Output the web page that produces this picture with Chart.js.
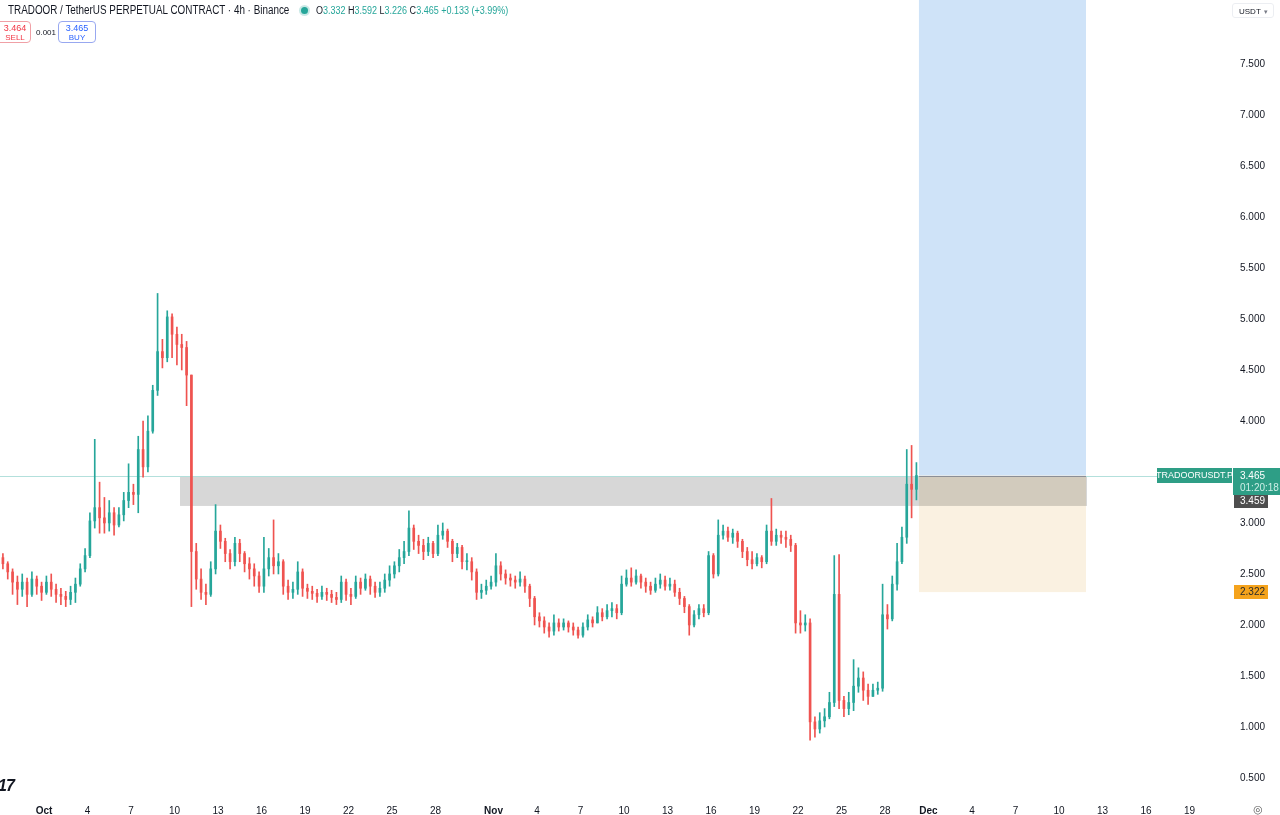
<!DOCTYPE html>
<html>
<head>
<meta charset="utf-8">
<title>TRADOOR / TetherUS PERPETUAL CONTRACT</title>
<script src="https://cdn.jsdelivr.net/npm/chart.js@4.4.1/dist/chart.umd.min.js"></script>
<style>
  body { margin: 0; background: #fff; font-family: "Liberation Sans", Arial, sans-serif; }
  #wrap { position: relative; width: 1280px; height: 815px; overflow: hidden; }
  #chart { position: absolute; left: 0; top: 0; }
  .title { position: absolute; left: 8px; top: 3px; font-size: 12.5px; color: #131722; white-space: nowrap; transform: scaleX(0.79); transform-origin: left top; }
  .dot { position: absolute; left: 301px; top: 7px; width: 7px; height: 7px; border-radius: 50%; background: #26a69a; box-shadow: 0 0 0 2px rgba(38,166,154,0.25); }
  .ohlc { position: absolute; left: 316px; top: 5px; font-size: 10px; color: #26a69a; white-space: nowrap; transform: scaleX(0.9); transform-origin: left top; }
  .ohlc b { font-weight: normal; color: #131722; }
  .trade { position: absolute; top: 21px; height: 22px; border: 1px solid; border-radius: 4px; text-align: center; font-size: 9px; line-height: 10px; padding-top: 1px; box-sizing: border-box; }
  .trade span { display: block; font-size: 8px; }
  .sell { left: -6px; width: 37px; border-color: #f0a0a6; color: #f23645; padding-left: 5px; }
  .buy { left: 58px; width: 38px; border-color: #98a8f0; color: #2962ff; }
  .spread { position: absolute; left: 36px; top: 28px; font-size: 8px; color: #131722; }
  .unit { position: absolute; left: 1232px; top: 3px; width: 42px; height: 15px; border: 1px solid #eceef2; border-radius: 3px; font-size: 8px; color: #131722; line-height: 15px; box-sizing: border-box; padding-left: 6px; }
  .unit i { position: absolute; right: 5px; top: 0; font-style: normal; color: #787b86; font-size: 7px; }
  .logo { position: absolute; left: -2px; top: 777px; font-size: 16px; font-weight: 900; font-style: italic; color: #131722; letter-spacing: -1px; }
  .gear { position: absolute; left: 1253px; top: 803px; font-size: 11px; color: #555; }
</style>
</head>
<body>
<div id="wrap">
  <canvas id="chart" width="1280" height="815"></canvas>
  <div class="title">TRADOOR / TetherUS PERPETUAL CONTRACT · 4h · Binance</div>
  <div class="dot"></div>
  <div class="ohlc"><b>O</b>3.332 <b>H</b>3.592 <b>L</b>3.226 <b>C</b>3.465 +0.133 (+3.99%)</div>
  <div class="trade sell">3.464<span>SELL</span></div>
  <div class="spread">0.001</div>
  <div class="trade buy">3.465<span>BUY</span></div>
  <div class="unit">USDT<i>▾</i></div>
  <div class="logo">17</div>
  <div class="gear">◎</div>
</div>
<script>
const FONT = '"Liberation Sans", Arial, sans-serif';
const UP = "#26a69a";
const DOWN = "#ef5350";

// ── Data: 8h candles from Sep 28, day 0 = Oct 1 ──
const START_DAY = -3;
const STEP = 1 / 3;
const FIRST_OPEN = 2.66;

const CLOSE = [
  2.60, 2.52, 2.42, 2.35, 2.42, 2.30, 2.45, 2.38, 2.32, 2.42, 2.35, 2.30,
  2.28, 2.25, 2.32, 2.40, 2.55, 2.68, 3.02, 3.15, 3.05, 3.00, 3.10, 2.98,
  3.08, 3.22, 3.30, 3.28, 3.72, 3.55, 3.90, 4.30, 4.68, 4.62, 5.02, 4.85,
  4.75, 4.72, 4.45, 2.72, 2.45, 2.32, 2.30, 2.55, 2.92, 2.82, 2.70, 2.62,
  2.80, 2.70, 2.60, 2.55, 2.48, 2.38, 2.55, 2.66, 2.58, 2.62, 2.38, 2.32,
  2.35, 2.52, 2.36, 2.33, 2.31, 2.28, 2.32, 2.30, 2.27, 2.25, 2.42, 2.30,
  2.28, 2.42, 2.36, 2.45, 2.38, 2.32, 2.36, 2.44, 2.50, 2.58, 2.66, 2.72,
  2.95, 2.82, 2.78, 2.72, 2.80, 2.70, 2.88, 2.92, 2.82, 2.70, 2.76, 2.62,
  2.62, 2.52, 2.32, 2.34, 2.38, 2.42, 2.58, 2.50, 2.46, 2.44, 2.42, 2.45,
  2.38, 2.26, 2.08, 2.04, 1.98, 1.94, 2.02, 1.98, 2.02, 1.98, 1.95, 1.90,
  1.98, 2.05, 2.02, 2.12, 2.08, 2.14, 2.16, 2.12, 2.40, 2.46, 2.42, 2.48,
  2.42, 2.38, 2.34, 2.40, 2.44, 2.38, 2.40, 2.32, 2.26, 2.18, 2.00, 2.10,
  2.16, 2.12, 2.68, 2.50, 2.88, 2.92, 2.86, 2.90, 2.82, 2.72, 2.64, 2.60,
  2.66, 2.62, 2.92, 2.82, 2.88, 2.86, 2.84, 2.78, 2.02, 2.00, 2.02, 1.05,
  0.98, 1.06, 1.10, 1.24, 2.30, 1.26, 1.18, 1.24, 1.40, 1.48, 1.36, 1.30,
  1.36, 1.38, 2.10, 2.06, 2.40, 2.62, 2.86, 3.38, 3.33, 3.465,
];
const HIGH = [
  2.70, 2.62, 2.55, 2.48, 2.50, 2.46, 2.52, 2.48, 2.42, 2.48, 2.50, 2.40,
  2.36, 2.33, 2.38, 2.46, 2.60, 2.75, 3.10, 3.82, 3.40, 3.25, 3.22, 3.15,
  3.15, 3.30, 3.58, 3.38, 3.85, 4.00, 4.05, 4.35, 5.25, 4.80, 5.08, 5.05,
  4.92, 4.85, 4.78, 4.45, 2.80, 2.55, 2.40, 2.62, 3.18, 2.98, 2.85, 2.74,
  2.86, 2.84, 2.72, 2.66, 2.60, 2.52, 2.86, 2.75, 3.03, 2.70, 2.64, 2.44,
  2.42, 2.62, 2.55, 2.40, 2.38, 2.35, 2.38, 2.36, 2.34, 2.32, 2.48, 2.45,
  2.36, 2.48, 2.46, 2.50, 2.48, 2.42, 2.42, 2.50, 2.58, 2.62, 2.74, 2.82,
  3.12, 2.98, 2.88, 2.84, 2.86, 2.82, 2.98, 3.00, 2.94, 2.84, 2.80, 2.78,
  2.70, 2.66, 2.55, 2.40, 2.44, 2.48, 2.70, 2.62, 2.54, 2.50, 2.48, 2.52,
  2.48, 2.40, 2.28, 2.12, 2.08, 2.02, 2.10, 2.06, 2.06, 2.04, 2.02, 1.98,
  2.02, 2.10, 2.08, 2.18, 2.16, 2.20, 2.22, 2.20, 2.48, 2.54, 2.56, 2.54,
  2.50, 2.46, 2.42, 2.46, 2.50, 2.48, 2.46, 2.44, 2.36, 2.28, 2.20, 2.14,
  2.20, 2.20, 2.72, 2.70, 3.03, 2.98, 2.96, 2.94, 2.92, 2.84, 2.76, 2.72,
  2.70, 2.68, 2.98, 3.24, 2.94, 2.92, 2.92, 2.88, 2.80, 2.14, 2.10, 2.06,
  1.10, 1.14, 1.18, 1.34, 2.68, 2.69, 1.30, 1.34, 1.66, 1.58, 1.54, 1.42,
  1.42, 1.44, 2.40, 2.20, 2.48, 2.80, 2.96, 3.72, 3.76, 3.592,
];
const LOW = [
  2.55, 2.45, 2.30, 2.20, 2.28, 2.18, 2.28, 2.30, 2.24, 2.30, 2.28, 2.22,
  2.20, 2.18, 2.20, 2.22, 2.38, 2.52, 2.66, 2.95, 2.90, 2.90, 2.92, 2.88,
  2.96, 3.02, 3.15, 3.18, 3.10, 3.45, 3.50, 3.88, 4.25, 4.52, 4.58, 4.62,
  4.55, 4.50, 4.15, 2.18, 2.35, 2.25, 2.20, 2.28, 2.50, 2.75, 2.62, 2.55,
  2.58, 2.62, 2.52, 2.45, 2.38, 2.32, 2.32, 2.48, 2.50, 2.50, 2.30, 2.25,
  2.26, 2.30, 2.28, 2.26, 2.25, 2.22, 2.25, 2.24, 2.22, 2.20, 2.22, 2.24,
  2.20, 2.26, 2.30, 2.34, 2.30, 2.27, 2.28, 2.32, 2.38, 2.46, 2.52, 2.60,
  2.68, 2.74, 2.70, 2.64, 2.68, 2.66, 2.68, 2.84, 2.76, 2.62, 2.66, 2.55,
  2.54, 2.44, 2.25, 2.26, 2.30, 2.35, 2.38, 2.44, 2.40, 2.38, 2.36, 2.38,
  2.32, 2.18, 2.00, 1.98, 1.92, 1.88, 1.90, 1.94, 1.95, 1.93, 1.90, 1.87,
  1.88, 1.95, 1.98, 2.02, 2.04, 2.06, 2.08, 2.06, 2.10, 2.38, 2.38, 2.40,
  2.36, 2.32, 2.30, 2.32, 2.36, 2.34, 2.34, 2.28, 2.20, 2.12, 1.90, 1.98,
  2.06, 2.08, 2.10, 2.46, 2.48, 2.84, 2.82, 2.80, 2.76, 2.66, 2.58, 2.55,
  2.58, 2.56, 2.60, 2.78, 2.78, 2.80, 2.76, 2.72, 1.92, 1.92, 1.94, 0.87,
  0.90, 0.94, 1.00, 1.08, 1.20, 1.18, 1.10, 1.12, 1.16, 1.34, 1.26, 1.22,
  1.30, 1.32, 1.35, 1.96, 2.04, 2.34, 2.60, 2.80, 3.05, 3.226,
];

// drawings on the chart (price levels and day ranges)
const ZONE_DAYS = [9.38, 71.93];
const ZONE_PRICES = [3.167, 3.451];
const POSITION_DAYS = [60.34, 71.86];
const POSITION_PRICES = [2.322, 3.465, 8.5]; // stop, entry, target
const LAST_PRICE = 3.465;
const BID_PRICE = 3.459;

// axes
const X_MIN = -3.034;
const X_MAX = 81.93;
const Y_MIN = 0.284;
const Y_MAX = 8.127;
const X_TICK_DAYS = [0, 3, 6, 9, 12, 15, 18, 21, 24, 27, 31, 34, 37, 40, 43, 46, 49, 52, 55, 58, 61, 64, 67, 70, 73, 76, 79];
const X_TICK_LABELS = ["Oct", "4", "7", "10", "13", "16", "19", "22", "25", "28", "Nov", "4", "7", "10", "13", "16", "19", "22", "25", "28", "Dec", "4", "7", "10", "13", "16", "19"];
const MONTHS = ["Oct", "Nov", "Dec"];
const Y_TICKS = [0.5, 1, 1.5, 2, 2.5, 3, 4, 4.5, 5, 5.5, 6, 6.5, 7, 7.5];

// ── Build candles ──
const OPEN = CLOSE.map((c, i) => (i === 0 ? FIRST_OPEN : CLOSE[i - 1]));
const TIME = CLOSE.map((c, i) => START_DAY + (i + 0.5) * STEP);
const candleColor = CLOSE.map((c, i) => (c >= OPEN[i] ? UP : DOWN));

const wicks = TIME.map((t, i) => ({
  x: t,
  y: [Math.min(LOW[i], OPEN[i], CLOSE[i]), Math.max(HIGH[i], OPEN[i], CLOSE[i])],
}));
const bodies = TIME.map((t, i) => ({ x: t, y: [OPEN[i], CLOSE[i]] }));

// ── Plugins ──
function box(ctx, x0, x1, y0, y1) {
  ctx.fillRect(Math.min(x0, x1), Math.min(y0, y1), Math.abs(x1 - x0), Math.abs(y1 - y0));
}

const drawingsPlugin = {
  id: "drawings",
  beforeDatasetsDraw(chart) {
    const { ctx, chartArea: a, scales } = chart;
    const x = scales.x;
    const y = scales.y;
    ctx.save();
    ctx.beginPath();
    ctx.rect(a.left, a.top, a.width, a.height);
    ctx.clip();

    const px0 = x.getPixelForValue(POSITION_DAYS[0]);
    const px1 = x.getPixelForValue(POSITION_DAYS[1]);
    const entry = y.getPixelForValue(POSITION_PRICES[1]);

    // grey supply zone
    ctx.fillStyle = "#d7d7d7";
    box(ctx, x.getPixelForValue(ZONE_DAYS[0]), x.getPixelForValue(ZONE_DAYS[1]),
      y.getPixelForValue(ZONE_PRICES[0]), y.getPixelForValue(ZONE_PRICES[1]));

    // long position: target (blue) and stop (beige)
    ctx.fillStyle = "#cfe3f8";
    box(ctx, px0, px1, y.getPixelForValue(POSITION_PRICES[2]), entry);
    ctx.globalCompositeOperation = "multiply";
    ctx.fillStyle = "#faf1e1";
    box(ctx, px0, px1, entry, y.getPixelForValue(POSITION_PRICES[0]));
    ctx.globalCompositeOperation = "source-over";

    // last price line
    const lp = Math.round(y.getPixelForValue(LAST_PRICE)) + 0.5;
    ctx.strokeStyle = "rgba(38,166,154,0.35)";
    ctx.lineWidth = 1;
    ctx.beginPath();
    ctx.moveTo(a.left, lp);
    ctx.lineTo(a.right, lp);
    ctx.stroke();

    // entry line
    ctx.strokeStyle = "#8c8f96";
    ctx.beginPath();
    ctx.moveTo(px0, lp);
    ctx.lineTo(px1, lp);
    ctx.stroke();
    ctx.restore();
  },
  afterDraw(chart) {
    const { ctx, chartArea: a, scales } = chart;
    const y = scales.y;
    const lp = Math.round(y.getPixelForValue(LAST_PRICE));
    const sp = Math.round(y.getPixelForValue(POSITION_PRICES[0]));
    ctx.save();
    ctx.textBaseline = "middle";

    // symbol tag
    ctx.fillStyle = "#2e9e86";
    ctx.fillRect(a.right - 75, lp - 8, 75, 15);
    ctx.fillStyle = "#fff";
    ctx.textAlign = "center";
    ctx.font = "9px " + FONT;
    ctx.fillText("TRADOORUSDT.P", a.right - 37.5, lp);

    // last price + countdown
    ctx.font = "10px " + FONT;
    ctx.fillStyle = "#2e9e86";
    ctx.fillRect(a.right + 1, lp - 8, 48, 27);
    ctx.textAlign = "left";
    ctx.fillStyle = "#fff";
    ctx.fillText(LAST_PRICE.toFixed(3), a.right + 8, lp);
    ctx.fillStyle = "#cdeee6";
    ctx.fillText("01:20:18", a.right + 8, lp + 12);

    // bid tag
    ctx.fillStyle = "#4e4e4e";
    ctx.fillRect(a.right + 2, lp + 19, 34, 13);
    ctx.fillStyle = "#fff";
    ctx.fillText(BID_PRICE.toFixed(3), a.right + 8, lp + 25.5);

    // stop tag
    ctx.fillStyle = "#f5a31c";
    ctx.fillRect(a.right + 2, sp - 7, 34, 14);
    ctx.fillStyle = "#2a2a2a";
    ctx.fillText(POSITION_PRICES[0].toFixed(3), a.right + 8, sp);
    ctx.restore();
  },
};

// ── Chart ──
new Chart(document.getElementById("chart"), {
  type: "bar",
  data: {
    datasets: [
      {
        label: "Body",
        data: bodies,
        backgroundColor: candleColor,
        barThickness: 2,
        minBarLength: 1,
        borderWidth: 0,
        borderSkipped: false,
        grouped: false,
      },
      {
        label: "Wick",
        data: wicks,
        backgroundColor: candleColor,
        barThickness: 1,
        borderWidth: 0,
        borderSkipped: false,
        grouped: false,
      },
    ],
  },
  options: {
    responsive: false,
    animation: false,
    events: [],
    layout: { padding: 0 },
    plugins: {
      legend: { display: false },
      tooltip: { enabled: false },
    },
    scales: {
      x: {
        type: "linear",
        position: "bottom",
        min: X_MIN,
        max: X_MAX,
        offset: false,
        grid: { display: false, drawTicks: false, offset: false },
        border: { display: false },
        afterBuildTicks: (s) => {
          s.ticks = X_TICK_DAYS.map((v) => ({ value: v }));
        },
        ticks: {
          autoSkip: false,
          maxRotation: 0,
          padding: 5,
          color: "#131722",
          font: (c) => ({
            family: FONT,
            size: 10,
            weight: MONTHS.includes(X_TICK_LABELS[c.index]) ? "bold" : "normal",
          }),
          callback: (v, i) => X_TICK_LABELS[i],
        },
        afterFit: (s) => {
          s.height = 15;
          s.paddingLeft = 0;
          s.paddingRight = 0;
        },
      },
      y: {
        type: "linear",
        position: "right",
        min: Y_MIN,
        max: Y_MAX,
        beginAtZero: false,
        grid: { display: false, drawTicks: false },
        border: { display: false },
        afterBuildTicks: (s) => {
          s.ticks = Y_TICKS.map((v) => ({ value: v }));
        },
        ticks: {
          padding: 8,
          color: "#131722",
          font: { family: FONT, size: 10 },
          callback: (v) => v.toFixed(3),
        },
        afterFit: (s) => {
          s.width = 48;
          s.paddingTop = 0;
          s.paddingBottom = 0;
        },
      },
    },
  },
  plugins: [drawingsPlugin],
});
</script>
</body>
</html>
